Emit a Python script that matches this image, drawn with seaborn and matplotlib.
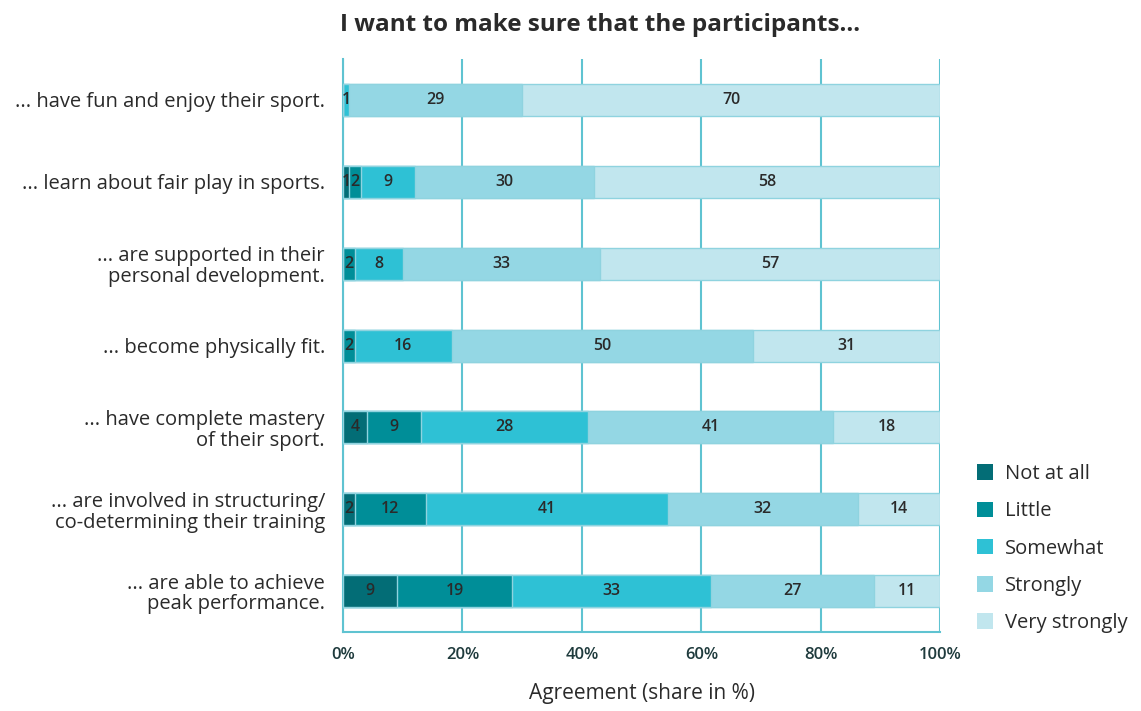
import numpy as np
import pandas as pd
import matplotlib
matplotlib.use("Agg")
import matplotlib.pyplot as plt
import seaborn as sns
from matplotlib.patches import Patch

statements = [
    "... have fun and enjoy their sport.",
    "... learn about fair play in sports.",
    "... are supported in their\npersonal development.",
    "... become physically fit.",
    "... have complete mastery\nof their sport.",
    "... are involved in structuring/\nco-determining their training",
    "... are able to achieve\npeak performance.",
]
levels = ["Not at all", "Little", "Somewhat", "Strongly", "Very strongly"]

not_at_all = [0, 1, 0, 0, 4, 2, 9]
little = [0, 2, 2, 2, 9, 12, 19]
somewhat = [1, 9, 8, 16, 28, 41, 33]
strongly = [29, 30, 33, 50, 41, 32, 27]
very_strongly = [70, 58, 57, 31, 18, 14, 11]

colors = ["#036d76", "#008e98", "#2ec1d5", "#94d7e4", "#c1e6ee"]
line_col = "#5fc3d1"
text_col = "#2a2a2a"

sns.set_theme(style="white")
plt.rcParams["font.family"] = ["Open Sans", "DejaVu Sans"]

values = np.array([not_at_all, little, somewhat, strongly, very_strongly], dtype=float)
shares = values / values.sum(axis=0) * 100
cum = np.cumsum(shares, axis=0)

fig = plt.figure(figsize=(11.41, 7.11), dpi=100)
ax = fig.add_axes([0.3006, 0.111, 0.5235, 0.806])

# stacked bars: draw the widest cumulative layer first, narrower ones on top
for i in range(len(levels) - 1, -1, -1):
    df = pd.DataFrame({"statement": statements, "cum": cum[i]})
    sns.barplot(data=df, x="cum", y="statement", orient="h", color=colors[i],
                width=0.39, edgecolor="#8fd3df", linewidth=1.0, saturation=1,
                ax=ax, zorder=3)

# value labels centred in each segment
for i in range(len(levels)):
    for j in range(len(statements)):
        if values[i, j] > 0:
            start = cum[i - 1, j] if i > 0 else 0
            ax.text(start + shares[i, j] / 2, j, f"{int(values[i, j])}",
                    ha="center", va="center", fontsize=11.5, color=text_col,
                    fontweight="semibold", zorder=5)

ax.set_xlim(0, 100)
ax.set_ylim(len(statements) - 0.5, -0.5)
ax.set_xticks(np.arange(0, 101, 20))
ax.set_xticklabels([f"{v}%" for v in range(0, 101, 20)], fontsize=12,
                   fontweight="semibold", color="#1f3b3d")
ax.set_yticks(range(len(statements)))
ax.set_yticklabels(statements, fontsize=14.5, color=text_col, linespacing=1.05)
ax.set_yticks(np.arange(0.5, len(statements) - 0.5, 1), minor=True)
ax.tick_params(axis="y", which="major", length=0, pad=13)
ax.tick_params(axis="y", which="minor", length=7, width=1.5, color=line_col,
               direction="out")
ax.tick_params(axis="x", which="major", length=6, width=1.5, color=line_col,
               direction="inout", pad=8)

ax.grid(axis="x", color=line_col, linewidth=1.5, zorder=0)
ax.set_axisbelow(True)
for side in ["top", "right"]:
    ax.spines[side].set_visible(False)
for side in ["left", "bottom"]:
    ax.spines[side].set_color(line_col)
    ax.spines[side].set_linewidth(1.5)

ax.set_xlabel("Agreement (share in %)", fontsize=15, color=text_col, labelpad=14)
ax.set_ylabel("")

fig.text(0.526, 0.965, "I want to make sure that the participants...",
         ha="center", va="center", fontsize=17.5, fontweight="bold", color=text_col)

handles = [Patch(facecolor=c, edgecolor="none") for c in colors]
fig.legend(handles, levels, loc="upper left", bbox_to_anchor=(0.840, 0.373),
           frameon=False, fontsize=14.5, handlelength=0.8, handleheight=0.8,
           handletextpad=0.6, labelspacing=0.86, labelcolor=text_col)

fig.savefig("out.png", dpi=100, facecolor="white")
